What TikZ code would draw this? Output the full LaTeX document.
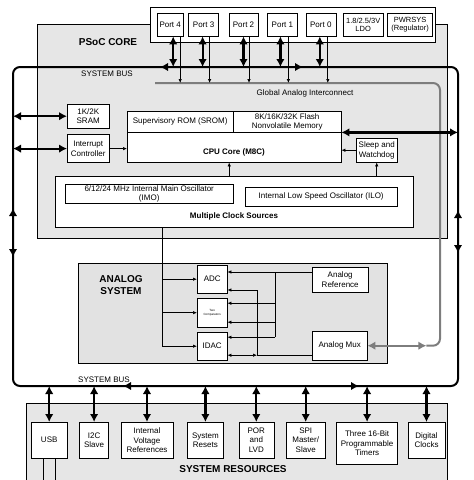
\documentclass[tikz,border=0pt]{standalone}
\usepackage{fontspec}
\setmainfont{Liberation Sans}
\usepackage{tikz}
\usetikzlibrary{positioning,arrows.meta}

\definecolor{coregrey}{RGB}{230,230,230}
\definecolor{anagrey}{RGB}{226,226,226}
\definecolor{galine}{RGB}{125,125,125}

\begin{document}
\begin{tikzpicture}[%
        x=1pt,y=-1pt,
        >={Latex[length=8pt,width=8.5pt]},
        box/.style={%
          draw,
          fill=white,
          inner sep=1pt,
          align=center,
          font=\fontsize{8}{9.5}\selectfont
        },
        area/.style={draw, fill=coregrey, anchor=north west},
        lbl/.style={font=\fontsize{8}{9.5}\selectfont},
        title/.style={font=\bfseries\fontsize{10}{11.5}\selectfont, align=center},
        bus/.style={line width=2pt, rounded corners=7pt},
        dbl/.style={line width=2.2pt, <->},
        arr/.style={line width=0.7pt, -{Latex[length=4pt,width=3.5pt]}},
        arrtwo/.style={line width=0.7pt, {Latex[length=4pt,width=3.5pt]}-{Latex[length=4pt,width=3.5pt]}},
        gline/.style={line width=2pt, draw=galine, rounded corners=7pt}
      ]
      \useasboundingbox (0,0) rectangle (474,480);

      % big areas
      \node[area, minimum width=410pt, minimum height=214pt] (core) at (37,24) {};
      \node[area, fill=white, minimum width=285pt, minimum height=35pt] (portbar) at (150,7) {};
      \node[area, fill=coregrey, minimum width=421pt, minimum height=90pt] (res) at (26,403) {};

      % ports
      \node[box, minimum width=26pt, minimum height=23pt, anchor=north west] (p4) at (157,13) {Port 4};
      \node[box, minimum width=30pt, minimum height=23pt] (p3) [right=5pt of p4] {Port 3};
      \node[box, minimum width=29pt, minimum height=23pt] (p2) [right=10pt of p3] {Port 2};
      \node[box, minimum width=30pt, minimum height=23pt] (p1) [right=9pt of p2] {Port 1};
      \node[box, minimum width=30pt, minimum height=23pt] (p0) [right=8pt of p1] {Port 0};
      \node[box, minimum width=40pt, minimum height=23pt, inner sep=0.5pt, font=\fontsize{7.5}{8.5}\selectfont] (ldo) [right=7pt of p0] {1.8/2.5/3V\\LDO};
      \node[box, minimum width=45pt, minimum height=23pt, inner sep=0.5pt, font=\fontsize{7.5}{8.5}\selectfont] (pwr) [right=4pt of ldo] {PWRSYS\\(Regulator)};

      \node[title] (corelbl) at (108,42) {PSoC CORE};

      % core blocks
      \node[box, minimum width=42pt, minimum height=24pt, anchor=north west] (sram) at (67,104) {1K/2K\\SRAM};
      \node[box, minimum width=42pt, minimum height=28pt] (intc) [below=6pt of sram] {Interrupt\\Controller};
      \node[box, minimum width=214pt, minimum height=51pt, anchor=north west] (cpu) at (127,111) {};
      \node[box, minimum width=106pt, minimum height=21pt, anchor=north west] (srom) at (127,111) {Supervisory ROM (SROM)};
      \node[box, minimum width=108pt, minimum height=21pt, anchor=north west] (flash) at (233,111) {8K/16K/32K Flash\\Nonvolatile Memory};
      \node[lbl, font=\bfseries\fontsize{8}{9.5}\selectfont] (cpulbl) at (234,152) {CPU Core (M8C)};
      \node[box, minimum width=41pt, minimum height=24pt, anchor=north west] (sleep) at (356,138) {Sleep and\\Watchdog};
      \node[box, minimum width=358pt, minimum height=51pt, anchor=north west] (clk) at (55,176) {};
      \node[box, minimum width=168pt, minimum height=19pt, anchor=north west, font=\fontsize{8}{9}\selectfont] (imo) at (65,184) {6/12/24 MHz Internal Main Oscillator\\(IMO)};
      \node[box, minimum width=152pt, minimum height=19pt, anchor=north west] (ilo) at (245,187) {Internal Low Speed Oscillator (ILO)};
      \node[lbl, font=\bfseries\fontsize{8}{9.5}\selectfont] (clklbl) at (234,216) {Multiple Clock Sources};

      % analog system
      \node[area, fill=anagrey, line width=1.4pt, minimum width=309pt, minimum height=100pt] (ana) at (78,263) {};
      \node[title] (analbl) at (121,285) {ANALOG\\SYSTEM};
      \node[box, minimum width=30pt, minimum height=28pt, anchor=north west] (adc) at (197,265) {ADC};
      \node[box, minimum width=30pt, minimum height=29pt, anchor=north west, font=\fontsize{3}{3.6}\selectfont] (cmp) at (197,298) {Two\\Comparators};
      \node[box, minimum width=30pt, minimum height=28pt, anchor=north west] (idac) at (197,332) {IDAC};
      \node[box, minimum width=56pt, minimum height=25pt, anchor=north west] (ref) at (312,267) {Analog\\Reference};
      \node[box, minimum width=55pt, minimum height=29pt, anchor=north west] (mux) at (312,331) {Analog Mux};

      % system resources
      \node[box, minimum width=36pt, minimum height=36pt, anchor=north west] (usb) at (31,422) {USB};
      \node[box, minimum width=29pt, minimum height=36pt] (i2c) [right=12pt of usb] {I2C\\Slave};
      \node[box, minimum width=52pt, minimum height=36pt] (ivr) [right=12pt of i2c] {Internal\\Voltage\\References};
      \node[box, minimum width=36pt, minimum height=36pt] (rst) [right=14pt of ivr] {System\\Resets};
      \node[box, minimum width=35pt, minimum height=36pt] (por) [right=15pt of rst] {POR\\and\\LVD};
      \node[box, minimum width=39pt, minimum height=36pt] (spi) [right=12pt of por] {SPI\\Master/\\Slave};
      \node[box, minimum width=61pt, minimum height=42pt] (tmr) [right=11pt of spi.north east, anchor=north west] {Three 16-Bit\\Programmable\\Timers};
      \node[box, minimum width=37pt, minimum height=36pt] (dclk) [right=10pt of tmr.north east, anchor=north west] {Digital\\Clocks};
      \node[title] (reslbl) at (233,469) {SYSTEM RESOURCES};
      \draw ([xshift=-6pt]usb.south) -- ([xshift=-6pt]usb.south |- res.south);
      \draw ([xshift=6pt]usb.south) -- ([xshift=6pt]usb.south |- res.south);

      % global analog interconnect
      \coordinate (ga1) at (155,83);
      \coordinate (ga2) at (440,83);
      \coordinate (gaend) at ([xshift=59pt]mux.east);
      \draw[gline] (ga1) -- (ga2) -- (ga2 |- mux.east) -- (gaend);
      \draw[gline, <->] (mux.east) -- (gaend);
      \node[lbl] (galbl) at (305,93) {Global Analog Interconnect};

      % system bus
      \coordinate (tl) at (13,67);
      \coordinate (tr) at (458,67);
      \coordinate (br) at (458,386);
      \coordinate (bl) at (13,386);
      \draw[bus] (tl) -- (tr) -- (br) -- (bl) -- cycle;
      \draw[line width=2pt, ->] ([xshift=168pt]tl) -- ([xshift=147pt]tl);
      \draw[line width=2pt, ->] ([xshift=269pt]tl) -- ([xshift=290pt]tl);
      \draw[line width=2pt, ->] ([xshift=131pt]bl) -- ([xshift=110pt]bl);
      \draw[line width=2pt, ->] ([xshift=325pt]bl) -- ([xshift=346pt]bl);
      \draw[dbl] ([yshift=-141pt]tl) -- ([yshift=-190pt]tl);
      \draw[dbl] ([yshift=-143pt]tr) -- ([yshift=-186pt]tr);
      \node[lbl] (buslbl) at (107,74) {SYSTEM BUS};
      \node[lbl] (buslbltwo) at (104,380) {SYSTEM BUS};

      % ports to bus and interconnect
      \draw[dbl] ([xshift=3pt]p4.south) -- ([xshift=3pt]p4.south |- tl);
      \draw[dbl] ([xshift=-1pt]p3.south) -- ([xshift=-1pt]p3.south |- tl);
      \draw[dbl] (p2.south) -- (p2.south |- tl);
      \draw[dbl] ([xshift=-2pt]p1.south) -- ([xshift=-2pt]p1.south |- tl);
      \draw[dbl] ([xshift=-1pt]p0.south) -- ([xshift=-1pt]p0.south |- tl);
      \draw[arr] ([xshift=10pt]p4.south) -- ([xshift=10pt]p4.south |- ga1);
      \draw[arr] ([xshift=6pt]p3.south) -- ([xshift=6pt]p3.south |- ga1);
      \draw[arr] ([xshift=5.5pt]p2.south) -- ([xshift=5.5pt]p2.south |- ga1);
      \draw[arr] ([xshift=6pt]p1.south) -- ([xshift=6pt]p1.south |- ga1);
      \draw[arr] ([xshift=7pt]p0.south) -- ([xshift=7pt]p0.south |- ga1);

      % core connections
      \draw[dbl] (sram.west -| tl) -- (sram.west);
      \draw[dbl] (intc.west -| tl) -- (intc.west);
      \draw[dbl] (flash.south east) -- (flash.south east -| tr);
      \draw[arr] (intc.east) -- (intc.east -| cpu.west);
      \draw[arr] (sleep.west) -- (sleep.west -| cpu.east);
      \draw[arr] (sleep.south |- clk.north) -- (sleep.south);
      \draw[arr] ([xshift=-5pt]cpu.south |- clk.north) -- ([xshift=-5pt]cpu.south);

      % clocks to analog
      \coordinate (cd) at ([xshift=-72pt]clk.south);
      \draw[arr] (cd) |- (idac.west);
      \draw[arr] (cd |- adc.west) -- (adc.west);
      \draw[arr] (cd |- cmp.west) -- (cmp.west);

      % analog wiring
      \coordinate (rv) at (275,272);
      \coordinate (mv) at (257,290);
      \coordinate (c1) at ([yshift=9.5pt]cmp.east);
      \coordinate (c2) at ([yshift=-9.5pt]cmp.east);
      \coordinate (i1) at ([yshift=9pt]idac.east);
      \coordinate (i2) at ([yshift=-9pt]idac.east);
      \coordinate (m1) at ([yshift=-9.5pt]mux.west);
      \draw[arr] (rv -| ref.west) -- (rv -| adc.east);
      \draw (rv) -- (rv |- i1);
      \draw[arr] (rv |- c1) -- (c1);
      \draw[arr] (rv |- c2) -- (c2);
      \draw[arr] (rv |- i1) -- (i1);
      \draw[arr] (m1) -| (mv) -- (mv -| adc.east);
      \draw[arrtwo] (i2) -- (i2 -| mv);

      % resources to bus
      \draw[dbl] (usb.north |- bl) -- (usb.north);
      \draw[dbl] (i2c.north |- bl) -- (i2c.north);
      \draw[dbl] (ivr.north |- bl) -- (ivr.north);
      \draw[dbl] (rst.north |- bl) -- (rst.north);
      \draw[dbl] (por.north |- bl) -- (por.north);
      \draw[dbl] (spi.north |- bl) -- (spi.north);
      \draw[dbl] (tmr.north |- bl) -- (tmr.north);
      \draw[dbl] (dclk.north |- bl) -- (dclk.north);
  \end{tikzpicture}
\end{document}
